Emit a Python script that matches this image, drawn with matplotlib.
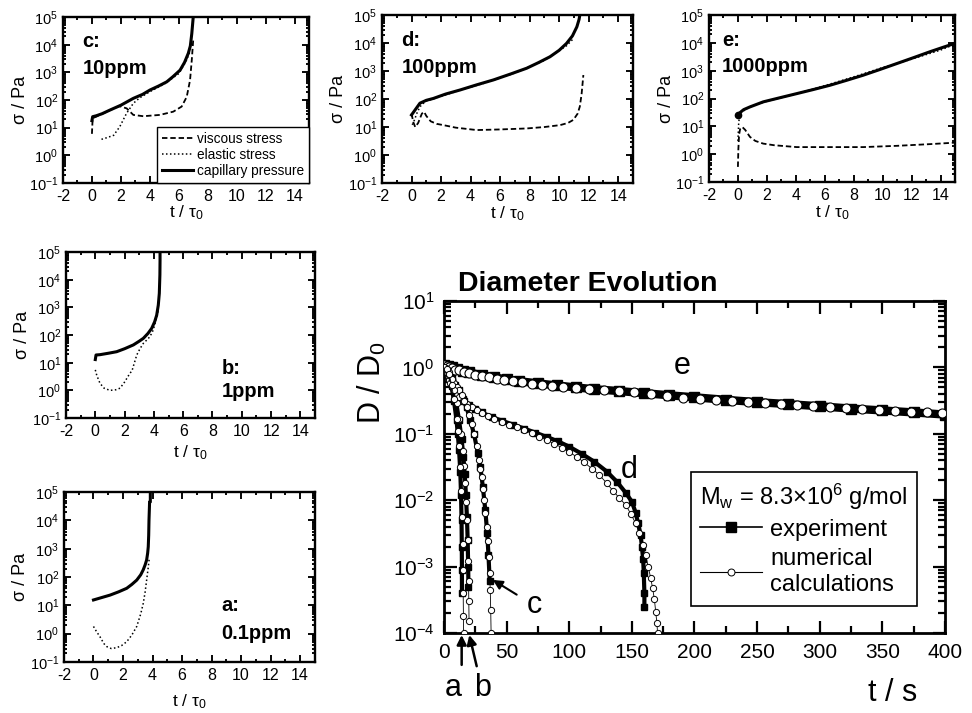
import numpy as np
import matplotlib
matplotlib.use('Agg')
import matplotlib.pyplot as plt
from matplotlib.lines import Line2D
from matplotlib.ticker import MultipleLocator, LogLocator, NullFormatter

plt.rcParams['font.family'] = ['Liberation Sans', 'DejaVu Sans']
plt.rcParams['mathtext.fontset'] = 'custom'
plt.rcParams['mathtext.rm'] = 'Liberation Sans'
plt.rcParams['mathtext.it'] = 'Liberation Sans:italic'
plt.rcParams['mathtext.default'] = 'regular'
plt.rcParams['axes.unicode_minus'] = False

# ---- stress panels (t / tau0, sigma / Pa) ----
# c: 10 ppm
c_cap_t = [0, 0.05, 0.3, 0.7, 1.27, 2.0, 2.86, 3.5, 4.01, 4.6, 5.17, 5.6, 6.09, 6.4, 6.66, 6.8, 6.9, 6.95, 7.0]
c_cap_s = [18, 25, 27, 32, 44, 65, 115, 160, 230, 320, 455, 700, 1200, 2300, 4900, 9000, 25000, 50000, 100000]
c_visc_t = [0, 0.05, 0.5, 1.2, 1.9, 2.4, 2.86, 3.55, 4.7, 5.62, 6.2, 6.55, 6.78, 6.9, 7.0]
c_visc_s = [6, 22, 28, 42, 60, 50, 29, 26, 29, 38, 58, 130, 520, 2800, 15000]
c_elas_t = [0.66, 1.0, 1.5, 1.93, 2.39, 2.86, 3.3, 4.0, 5.0, 6.0, 6.5, 6.8]
c_elas_s = [3.8, 4.3, 5.3, 11, 33, 76, 120, 200, 380, 900, 2500, 6000]

# d: 100 ppm
d_cap_t = [0, 0.3, 0.57, 1.0, 1.48, 2.3, 3.28, 4.4, 5.54, 6.7, 7.8, 8.6, 9.38, 10.0, 10.5, 10.9, 11.2, 11.35, 11.4]
d_cap_s = [27, 45, 71, 90, 105, 150, 210, 320, 480, 780, 1260, 2000, 3240, 5500, 9700, 18000, 38000, 70000, 100000]
d_visc_t = [0, 0.12, 0.25, 0.45, 0.7, 0.85, 1.0, 1.3, 1.7, 2.16, 3.0, 4.41, 6.0, 7.8, 9.0, 10.06, 10.6, 10.96, 11.25, 11.4, 11.52, 11.64]
d_visc_s = [30, 15, 10, 14, 30, 35, 25, 16, 13, 11.7, 9.5, 7.8, 8.2, 8.9, 10, 11.7, 14, 18, 30, 54, 150, 720]
d_elas_t = [0.05, 0.2, 0.4, 0.6, 0.8, 1.0, 1.3, 2.0, 3.0, 5.0, 7.0, 9.0, 10.5, 11.0]
d_elas_s = [12, 18, 35, 55, 70, 85, 95, 125, 185, 380, 850, 2400, 8000, 15000]

# e: 1000 ppm
e_cap_t = [0, 0.1, 0.4, 0.83, 1.75, 3.0, 4.06, 5.2, 6.36, 7.5, 8.66, 9.8, 10.97, 12.1, 13.27, 14.2, 15.0]
e_cap_s = [25, 30, 40, 50, 76, 110, 150, 210, 300, 450, 690, 1100, 1800, 2900, 4800, 7000, 9600]
e_visc_t = [0, 0.03, 0.08, 0.15, 0.3, 0.5, 0.83, 1.2, 1.75, 2.5, 4.06, 6.0, 8.66, 11.0, 13.27, 15.0]
e_visc_s = [0.35, 1.5, 5, 8, 9.5, 7.5, 4.2, 3.0, 2.4, 2.1, 1.8, 1.8, 1.8, 2.0, 2.3, 2.6]
e_elas_t = [0, 0.05, 0.1, 0.2, 0.5, 1.0, 2.0, 4.0, 6.0, 8.0, 10.0, 12.0, 14.0, 15.0]
e_elas_s = [3, 12, 22, 30, 40, 55, 80, 145, 290, 600, 1300, 2600, 5500, 9000]

# b: 1 ppm
b_cap_t = [0, 0.05, 0.32, 0.9, 1.46, 2.0, 2.6, 3.0, 3.28, 3.6, 3.85, 4.05, 4.19, 4.3, 4.37, 4.41, 4.42, 4.42]
b_cap_s = [13, 19, 19.5, 22, 25, 32, 44, 60, 76, 115, 175, 300, 520, 1200, 3200, 15000, 50000, 100000]
b_elas_t = [0, 0.1, 0.32, 0.6, 1.0, 1.4, 1.69, 2.0, 2.37, 2.5, 2.83, 3.05, 3.28, 3.5, 3.73, 3.95, 4.08, 4.2, 4.3]
b_elas_s = [5.5, 3.5, 1.8, 1.2, 1.0, 1.05, 1.2, 2.0, 4.2, 5, 19, 32, 50, 65, 87, 150, 260, 450, 800]

# a: 0.1 ppm
a_cap_t = [0, 0.5, 1.12, 1.7, 2.25, 2.6, 2.93, 3.2, 3.37, 3.5, 3.6, 3.67, 3.71, 3.74, 3.76, 3.79, 3.8, 3.85, 3.85]
a_cap_s = [15.5, 18.5, 23, 30, 40, 55, 78, 120, 180, 270, 400, 700, 1170, 3000, 10200, 30000, 45000, 45000, 100000]
a_elas_t = [0, 0.2, 0.44, 0.7, 0.9, 1.2, 1.57, 1.9, 2.25, 2.6, 2.93, 3.2, 3.37, 3.5, 3.6, 3.7, 3.78]
a_elas_s = [1.8, 1.2, 0.78, 0.45, 0.35, 0.3, 0.32, 0.38, 0.52, 0.9, 1.8, 5, 11.7, 30, 78, 200, 460]

# ---- diameter evolution (t / s, D / D0) ----
e_num_t = [0, 2, 4, 6, 9, 12, 16, 20, 25, 30, 36, 42, 48, 55, 62, 70, 78, 86, 95, 105, 116, 128, 140, 152,
           165, 178, 191, 204, 217, 230, 243, 256, 269, 282, 295, 308, 321, 334, 347, 360, 373, 386, 398]
e_num_d = [1.08, 1.04, 1.0, 0.97, 0.93, 0.90, 0.86, 0.82, 0.78, 0.75, 0.71, 0.68, 0.65, 0.62, 0.60, 0.57, 0.55,
           0.53, 0.51, 0.49, 0.475, 0.46, 0.44, 0.42, 0.40, 0.37, 0.35, 0.33, 0.318, 0.307, 0.297, 0.287, 0.278,
           0.269, 0.26, 0.252, 0.245, 0.237, 0.23, 0.223, 0.216, 0.21, 0.204]
e_exp_t = [0, 3, 6, 10, 15, 20, 30, 40, 50, 60, 75, 90, 105, 120, 140, 160, 180, 200, 225, 250, 275, 300, 325,
           350, 375, 400]
e_exp_d = [1.1, 1.06, 1.0, 0.95, 0.89, 0.84, 0.77, 0.71, 0.66, 0.62, 0.575, 0.535, 0.50, 0.47, 0.44, 0.41, 0.38,
           0.355, 0.325, 0.30, 0.28, 0.26, 0.24, 0.225, 0.21, 0.195]

d_num_t = [0, 1, 2, 3, 4, 5, 6, 8, 10, 12, 15, 18, 22, 26, 30, 35, 40, 46, 52, 58, 64, 70, 76, 82, 88, 94, 100,
           106, 112, 118, 124, 130, 135, 140, 145, 149, 153, 156, 159, 161, 163, 165, 166.5, 168, 169, 170, 170.5]
d_num_d = [1.0, 0.92, 0.83, 0.74, 0.65, 0.58, 0.52, 0.45, 0.40, 0.36, 0.31, 0.28, 0.25, 0.225, 0.205, 0.185,
           0.168, 0.152, 0.138, 0.125, 0.113, 0.102, 0.091, 0.081, 0.071, 0.062, 0.053, 0.045, 0.037, 0.030,
           0.024, 0.018, 0.0138, 0.0108, 0.0085, 0.0063, 0.0045, 0.0032, 0.0021, 0.0015, 0.001, 0.00068,
           0.00048, 0.00032, 0.00021, 0.00014, 0.0001]
d_exp_t = [0, 2, 4, 6, 8, 10, 13, 16, 20, 25, 30, 38, 46, 55, 64, 73, 82, 91, 100, 110, 120, 130, 138, 145, 150,
           153, 155, 157, 158, 159, 159.5, 160, 160]
d_exp_d = [1.05, 0.85, 0.68, 0.56, 0.48, 0.42, 0.36, 0.31, 0.27, 0.235, 0.21, 0.18, 0.158, 0.138, 0.12, 0.104,
           0.09, 0.077, 0.064, 0.05, 0.038, 0.027, 0.019, 0.013, 0.0095, 0.0065, 0.0045, 0.003, 0.002, 0.0013,
           0.0008, 0.0004, 0.00025]

c_num_t = [0, 2, 4, 6, 8, 10, 12, 14, 16, 18, 20, 22, 24, 26, 28, 29, 30, 31, 32, 33, 34, 35, 35.8, 36.4, 36.9,
           37.3, 37.6]
c_num_d = [1.0, 0.9, 0.78, 0.68, 0.59, 0.51, 0.45, 0.38, 0.31, 0.25, 0.19, 0.14, 0.098, 0.065, 0.04, 0.03, 0.022,
           0.015, 0.01, 0.0065, 0.004, 0.0024, 0.0014, 0.0008, 0.00045, 0.00022, 0.0001]
c_exp_t = [0, 3, 6, 9, 12, 15, 18, 21, 24, 27, 29, 31, 33, 34.5, 35.5, 36.5]
c_exp_d = [1.0, 0.85, 0.69, 0.55, 0.45, 0.34, 0.25, 0.16, 0.098, 0.052, 0.032, 0.016, 0.007, 0.0032, 0.0015, 0.0006]

b_num_t = [0, 2, 4, 6, 8, 10, 12, 13.5, 15, 16, 17, 17.8, 18.4, 18.9, 19.3, 19.6, 19.8, 20]
b_num_d = [1.0, 0.95, 0.85, 0.66, 0.45, 0.29, 0.17, 0.1, 0.055, 0.033, 0.018, 0.0095, 0.005, 0.0025, 0.0012,
           0.0006, 0.0003, 0.00015]
b_exp_t = [0, 3, 6, 9, 12, 14, 15.5, 16.5, 17.5, 18.3, 18.9, 19.3, 19.5]
b_exp_d = [1.0, 0.9, 0.63, 0.36, 0.16, 0.085, 0.045, 0.025, 0.012, 0.0055, 0.0025, 0.001, 0.0005]

a_num_t = [0, 2, 4, 6, 8, 10, 11, 12, 13, 13.8, 14.4, 14.8, 15.1, 15.3, 15.5, 15.6]
a_num_d = [1.0, 0.95, 0.8, 0.55, 0.33, 0.17, 0.11, 0.065, 0.032, 0.014, 0.0055, 0.0022, 0.0009, 0.0004, 0.00018,
           0.0001]
a_exp_t = [0, 2, 4, 6, 8, 10, 11, 12, 13, 13.6, 14, 14.2, 14.3, 14.3]
a_exp_d = [1.0, 0.93, 0.76, 0.52, 0.31, 0.16, 0.1, 0.058, 0.027, 0.012, 0.005, 0.002, 0.0009, 0.0004]


fig = plt.figure(figsize=(9.72, 7.13), dpi=100)


def style_axes(ax, fs, major_len, minor_len, lw):
    ax.tick_params(which='both', direction='in', top=True, right=True, width=lw * 0.8, labelsize=fs)
    ax.tick_params(which='major', length=major_len)
    ax.tick_params(which='minor', length=minor_len)
    for sp in ax.spines.values():
        sp.set_linewidth(lw)


def stress_panel(rect, cap, visc, elas, tag, conc, tag_x, tag_y, xlab_y,
                 legend=False, start_dot=False):
    ax = fig.add_axes(rect)
    if visc is not None:
        ax.plot(visc[0], visc[1], color='k', lw=1.3, ls=(0, (3, 1.6)), label='viscous stress')
    ax.plot(elas[0], elas[1], color='k', lw=1.1, ls=(0, (1, 1.6)), label='elastic stress')
    ax.plot(cap[0], cap[1], color='k', lw=2.2, label='capillary pressure')
    if start_dot:
        ax.plot(cap[0][0], cap[1][0], 'ko', ms=4.5)
    ax.set_yscale('log')
    ax.set_ylim(0.1, 1e5)
    ax.set_xlim(-2, 15)
    ax.xaxis.set_major_locator(MultipleLocator(2))
    ax.xaxis.set_minor_locator(MultipleLocator(1))
    ax.yaxis.set_major_locator(LogLocator(base=10, numticks=10))
    ax.yaxis.set_minor_locator(LogLocator(base=10, subs=np.arange(2, 10), numticks=20))
    ax.yaxis.set_minor_formatter(NullFormatter())
    style_axes(ax, 10.5, 5, 2.5, 1.7)
    ax.tick_params(axis='x', pad=4, labelsize=11.5)
    ax.set_ylabel('σ / Pa', fontsize=13)
    ax.yaxis.set_label_coords(-0.14, 0.5)
    ax.set_xlabel('t / τ$_0$', fontsize=12.5)
    ax.xaxis.set_label_coords(0.5, xlab_y)
    ax.text(tag_x, tag_y[0], tag, transform=ax.transAxes, fontsize=14.5, fontweight='bold', va='center')
    ax.text(tag_x, tag_y[1], conc, transform=ax.transAxes, fontsize=14.5, fontweight='bold', va='center')
    if legend:
        leg = ax.legend(loc='lower right', bbox_to_anchor=(1.0, 0.0), borderaxespad=0, fontsize=9.8,
                        handlelength=2.3, handletextpad=0.3, labelspacing=0.15, borderpad=0.35,
                        fancybox=False, framealpha=1)
        leg.get_frame().set_edgecolor('k')
        leg.get_frame().set_linewidth(1.0)
    return ax


stress_panel([0.0648, 0.7433, 0.2531, 0.2328], (c_cap_t, c_cap_s), (c_visc_t, c_visc_s),
             (c_elas_t, c_elas_s), 'c:', '10ppm', 0.08, (0.85, 0.69), -0.125, legend=True)
stress_panel([0.3930, 0.7433, 0.2582, 0.2356], (d_cap_t, d_cap_s), (d_visc_t, d_visc_s),
             (d_elas_t, d_elas_s), 'd:', '100ppm', 0.078, (0.85, 0.69), -0.125)
stress_panel([0.7294, 0.7447, 0.2531, 0.2342], (e_cap_t, e_cap_s), (e_visc_t, e_visc_s),
             (e_elas_t, e_elas_s), 'e:', '1000ppm', 0.052, (0.85, 0.69), -0.125, start_dot=True)
stress_panel([0.0679, 0.4137, 0.2562, 0.2328], (b_cap_t, b_cap_s), None,
             (b_elas_t, b_elas_s), 'b:', '1ppm', 0.625, (0.30, 0.16), -0.15)
stress_panel([0.0658, 0.0715, 0.2582, 0.2384], (a_cap_t, a_cap_s), None,
             (a_elas_t, a_elas_s), 'a:', '0.1ppm', 0.628, (0.335, 0.17), -0.18)

# ---- main panel ----
ax = fig.add_axes([0.4568, 0.1122, 0.5154, 0.4656])

exp_kw = dict(color='k', marker='s', mfc='k', mec='k', zorder=2)
num_kw = dict(color='k', marker='o', mfc='white', mec='k', zorder=3)

ax.plot(e_exp_t, e_exp_d, lw=6, ms=7, **exp_kw)
ax.plot(e_num_t, e_num_d, lw=0.8, ms=6.5, mew=0.8, **num_kw)
for te, de, tn, dn in [(d_exp_t, d_exp_d, d_num_t, d_num_d),
                       (c_exp_t, c_exp_d, c_num_t, c_num_d),
                       (b_exp_t, b_exp_d, b_num_t, b_num_d),
                       (a_exp_t, a_exp_d, a_num_t, a_num_d)]:
    ax.plot(te, de, lw=3, ms=5, **exp_kw)
    ax.plot(tn, dn, lw=0.6, ms=4.5, mew=0.7, **num_kw)

ax.set_yscale('log')
ax.set_ylim(1e-4, 10)
ax.set_xlim(0, 400)
ax.xaxis.set_major_locator(MultipleLocator(50))
ax.xaxis.set_minor_locator(MultipleLocator(25))
ax.yaxis.set_major_locator(LogLocator(base=10, numticks=10))
ax.yaxis.set_minor_locator(LogLocator(base=10, subs=np.arange(2, 10), numticks=20))
ax.yaxis.set_minor_formatter(NullFormatter())
style_axes(ax, 15, 9, 5, 2.0)
ax.tick_params(axis='both', pad=7)

ax.text(190, 1.05, 'e', fontsize=22, ha='center', va='center')
ax.text(148, 0.0285, 'd', fontsize=22, ha='center', va='center')
ax.annotate('c', xy=(39, 6.3e-4), xytext=(72, 2.6e-4), fontsize=22, ha='center', va='center',
            arrowprops=dict(arrowstyle='-|>', color='k', lw=1.5, mutation_scale=14, shrinkA=6, shrinkB=0))

xt = ax.get_xaxis_transform()
ax.annotate('', xy=(14.1, -0.006), xytext=(14.1, -0.096), xycoords=xt, textcoords=xt,
            arrowprops=dict(arrowstyle='-|>', color='k', lw=1.8, mutation_scale=14, shrinkA=0, shrinkB=0),
            annotation_clip=False)
ax.annotate('', xy=(20.2, -0.006), xytext=(26.1, -0.1), xycoords=xt, textcoords=xt,
            arrowprops=dict(arrowstyle='-|>', color='k', lw=1.8, mutation_scale=14, shrinkA=0, shrinkB=0),
            annotation_clip=False)
ax.text(7.2, -0.166, 'a', transform=xt, fontsize=22, ha='center', va='center')
ax.text(31, -0.166, 'b', transform=xt, fontsize=22, ha='center', va='center')
ax.text(0.896, -0.18, 't / s', transform=ax.transAxes, fontsize=22, ha='center', va='center')

fig.text(372 / 972, 1 - 383 / 713, 'D / D$_0$', fontsize=22, rotation=90, ha='center', va='center')
fig.text(588 / 972, 1 - 284 / 713, 'Diameter Evolution', fontsize=20.5, fontweight='bold',
         ha='center', va='center')

handles = [Line2D([], [], color='k', lw=1.2, marker='s', ms=7, mfc='k', mec='k'),
           Line2D([], [], color='k', lw=0.8, marker='o', ms=5, mfc='white', mec='k', mew=0.7)]
leg = ax.legend(handles, ['experiment', 'numerical\ncalculations'], numpoints=1,
                title='M$_w$ = 8.3×10$^6$ g/mol', title_fontsize=17, fontsize=17,
                loc='upper left', bbox_to_anchor=(0.493, 0.485), borderaxespad=0,
                handlelength=2.6, handletextpad=0.35, labelspacing=0.3, borderpad=0.4,
                fancybox=False, framealpha=1)
for txt in leg.get_texts():
    txt.set_linespacing(1.25)
leg.get_frame().set_edgecolor('k')
leg.get_frame().set_linewidth(1.2)
leg._legend_box.align = 'left'

fig.savefig('out.png', dpi=100)
